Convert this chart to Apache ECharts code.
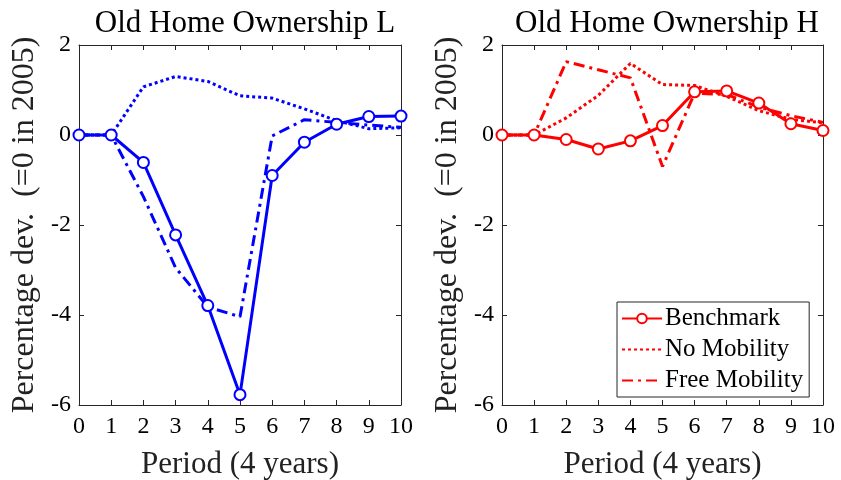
<!DOCTYPE html>
<html>
<head>
<meta charset="utf-8">
<script src="https://cdn.jsdelivr.net/npm/echarts@6/dist/echarts.min.js"></script>
<style>html,body{margin:0;padding:0;background:#fff;}#c{width:841px;height:480px;}</style>
</head>
<body>
<div id="c"></div>
<script>
var periods = [0, 1, 2, 3, 4, 5, 6, 7, 8, 9, 10];
var L_bench = [0, 0, -0.61, -2.22, -3.79, -5.77, -0.90, -0.16, 0.24, 0.41, 0.42];
var L_noMob = [0, 0, 1.07, 1.30, 1.19, 0.87, 0.82, 0.58, 0.32, 0.14, 0.16];
var L_free  = [0, 0, -1.37, -2.95, -3.82, -4.04, -0.02, 0.34, 0.28, 0.22, 0.17];
var H_bench = [0, 0, -0.10, -0.31, -0.13, 0.21, 0.96, 0.98, 0.71, 0.25, 0.10];
var H_noMob = [0, 0, 0.38, 0.88, 1.59, 1.12, 1.10, 0.86, 0.54, 0.35, 0.27];
var H_free  = [0, 0, 1.63, 1.45, 1.27, -0.70, 0.93, 0.90, 0.62, 0.43, 0.28];
var titles = ['Old Home Ownership L', 'Old Home Ownership H'];
var seriesNames = ['Benchmark', 'No Mobility', 'Free Mobility'];
var xName = 'Period (4 years)';
var yName = 'Percentage dev.  (=0 in 2005)';

var FONT = 'Liberation Serif';
var AX = '#262626';
function pairs(v){ return periods.map(function(p,i){ return [p, v[i]]; }); }

var grids = [
  {left: 79, top: 45, width: 322, height: 360, containLabel: false, outerBoundsMode: 'none'},
  {left: 502, top: 45, width: 321, height: 360, containLabel: false, outerBoundsMode: 'none'}
];
var xAxes = [], yAxes = [];
grids.forEach(function(g, gi){
  var common = {min: 0, max: 10, interval: 1, gridIndex: gi, type: 'value',
    axisLine: {show: true, onZero: false, lineStyle: {color: AX, width: 1}},
    axisTick: {show: true, inside: true, length: 5, lineStyle: {color: AX}},
    splitLine: {show: false}};
  xAxes.push(Object.assign({}, common, {position: 'bottom',
    axisLabel: {color: '#000', fontFamily: FONT, fontSize: 24, margin: 10},
    name: xName, nameLocation: 'middle', nameGap: 44,
    nameTextStyle: {color: '#222', fontFamily: FONT, fontSize: 31}}));
  xAxes.push(Object.assign({}, common, {position: 'top', axisLabel: {show: false}}));
  var ycommon = {min: -6, max: 2, interval: 2, gridIndex: gi, type: 'value',
    axisLine: {show: true, onZero: false, lineStyle: {color: AX, width: 1}},
    axisTick: {show: true, inside: true, length: 5, lineStyle: {color: AX}},
    splitLine: {show: false}};
  yAxes.push(Object.assign({}, ycommon, {position: 'left',
    axisLabel: {color: '#000', fontFamily: FONT, fontSize: 24, margin: 8},
    name: yName, nameLocation: 'middle', nameGap: 38,
    nameTextStyle: {color: '#222', fontFamily: FONT, fontSize: 32}}));
  yAxes.push(Object.assign({}, ycommon, {position: 'right', axisLabel: {show: false}}));
});

function mk(name, data, gi, color, kind){
  var s = {name: name, type: 'line', data: pairs(data), xAxisIndex: gi*2, yAxisIndex: gi*2,
    animation: false, silent: true, z: 3,
    lineStyle: {color: color, width: 3}, itemStyle: {color: color}};
  if (kind === 'bench') {
    s.symbol = 'emptyCircle'; s.symbolSize = 11; s.showSymbol = true; s.z = 4;
    s.itemStyle = {color: color, borderColor: color, borderWidth: 3};
  } else {
    s.symbol = 'none'; s.showSymbol = false; s.symbolSize = 0;
    s.lineStyle.type = kind === 'dot' ? [3, 3] : [11, 5, 3, 5];
  }
  return s;
}
var blue = '#0000ff', red = '#ff0000';
var series = [
  mk('L ' + seriesNames[0], L_bench, 0, blue, 'bench'),
  mk('L ' + seriesNames[1], L_noMob, 0, blue, 'dot'),
  mk('L ' + seriesNames[2], L_free, 0, blue, 'dashdot'),
  mk(seriesNames[0], H_bench, 1, red, 'bench'),
  mk(seriesNames[1], H_noMob, 1, red, 'dot'),
  mk(seriesNames[2], H_free, 1, red, 'dashdot')
];

var chart = echarts.init(document.getElementById('c'), null, {renderer: 'canvas'});
chart.setOption({
  animation: false,
  backgroundColor: '#fff',
  title: [
    {text: titles[0], left: 240, top: 3, textAlign: 'center',
     textStyle: {fontFamily: FONT, fontSize: 31, fontWeight: 'normal', color: '#000'}},
    {text: titles[1], left: 662, top: 3, textAlign: 'center',
     textStyle: {fontFamily: FONT, fontSize: 31, fontWeight: 'normal', color: '#000'}}
  ],
  grid: grids,
  xAxis: xAxes,
  yAxis: yAxes,
  legend: {
    data: [
      {name: seriesNames[0]},
      {name: seriesNames[1], itemStyle: {opacity: 0}},
      {name: seriesNames[2], itemStyle: {opacity: 0}}
    ],
    orient: 'vertical', left: 617, top: 302,
    width: 196, itemWidth: 40, itemHeight: 12, itemGap: 6,
    padding: [4, 6, 4, 4],
    backgroundColor: '#fff', borderColor: AX, borderWidth: 1, borderRadius: 0,
    selectedMode: false,
    textStyle: {fontFamily: FONT, fontSize: 25, color: '#000', padding: [0,0,0,-2]}
  },
  series: series
});
</script>
</body>
</html>
